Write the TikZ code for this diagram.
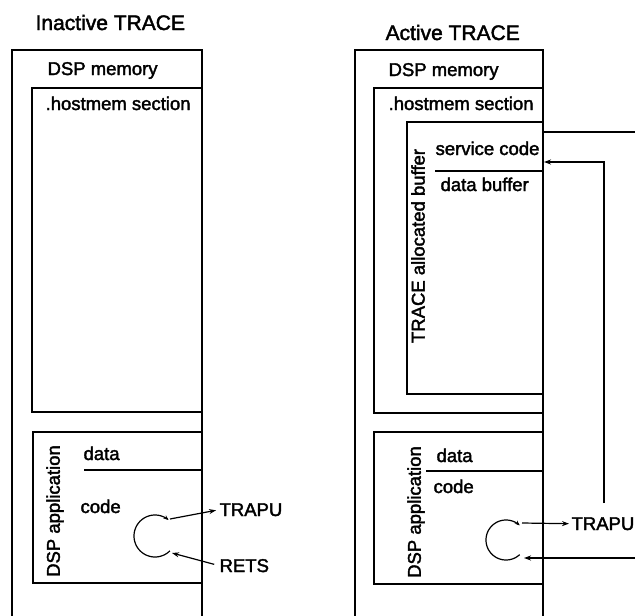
\documentclass[tikz,border=0pt]{standalone}
\usepackage{fontspec}
\setmainfont{Liberation Sans}[FakeBold=2]
\usetikzlibrary{arrows.meta}
\begin{document}
\begin{tikzpicture}[x=1pt,y=-1pt, line width=1.2pt,
  lbl/.style={inner sep=0pt, anchor=base west, font=\fontsize{18.5}{22}\selectfont},
  ttl/.style={inner sep=0pt, anchor=base west, font=\fontsize{21}{25}\selectfont},
  vlbl/.style={inner sep=0pt, rotate=90, font=\fontsize{18.5}{22}\selectfont},
  arr/.style={-{Stealth[length=7pt,width=5pt]}},
  loop/.style={-{Stealth[length=5pt,width=4pt]}},
]
\useasboundingbox (0,0) rectangle (635,616);

% ---------------- left panel ----------------
\node[ttl] (tl) at (35,30) {Inactive TRACE};
\draw (12,616) -- (12,50) -- (202,50) -- (202,616);
\node[lbl] (meml) at (47,75) {DSP memory};
\draw (32,88) rectangle (202,412);
\node[lbl] (hostl) at (45,110) {.hostmem section};
\draw (33,432) rectangle (202,583);
\node[vlbl] (appl) at (55,511) {DSP application};
\node[lbl] (datal) at (83,460) {data};
\draw (84,470) -- (202,470);
\node[lbl] (codel) at (80,513) {code};
\draw[loop] plot[domain=45:310, samples=60, smooth] ({155+21*cos(\x)},{536+21*sin(\x)});
\node[lbl] (trapul) at (219,516) {TRAPU};
\node[lbl] (retsl) at (219,572) {RETS};
\coordinate (lta) at (170,519);
\coordinate (lrb) at (172,553);
\draw[arr, shorten >=3pt] (lta) -- (trapul.west);
\draw[arr, shorten <=5pt] (retsl.west) -- (lrb);

% ---------------- right panel ----------------
\node[ttl] (tr) at (385,40) {Active TRACE};
\draw (355,616) -- (355,50) -- (543,50) -- (543,616);
\node[lbl] (memr) at (388,76) {DSP memory};
\draw (374,88) rectangle (543,413);
\node[lbl] (hostr) at (388,110) {.hostmem section};
\draw (407,122) rectangle (543,394);
\node[vlbl] (bufr) at (418,246) {TRACE allocated buffer};
\node[lbl] (svc) at (435,155) {service code};
\draw (435,171) -- (543,171);
\node[lbl] (dbuf) at (440,191) {data buffer};
\draw (374,432) rectangle (543,584);
\node[vlbl] (appr) at (416,512) {DSP application};
\node[lbl] (datar) at (436,462) {data};
\draw (426,471) -- (543,471);
\node[lbl] (coder) at (433,493) {code};
\draw[loop] plot[domain=47:313, samples=60, smooth] ({506+20*cos(\x)},{540+20*sin(\x)});
\node[lbl] (trapur) at (571,530) {TRAPU};
\coordinate (rta) at (522,523);
\draw[arr, shorten >=2pt] (rta) -- (trapur.west);
\coordinate (rrs) at (635,558);
\coordinate (rrb) at (524,558);
\draw[arr] (rrs) -- (rrb);
\coordinate (vtop) at (604,503);
\coordinate (svcin) at (544,162);
\draw[arr] (vtop) |- (svcin);
\coordinate (bufo) at (543,132);
\coordinate (bufx) at (635,132);
\draw (bufo) -- (bufx);
\end{tikzpicture}
\end{document}
